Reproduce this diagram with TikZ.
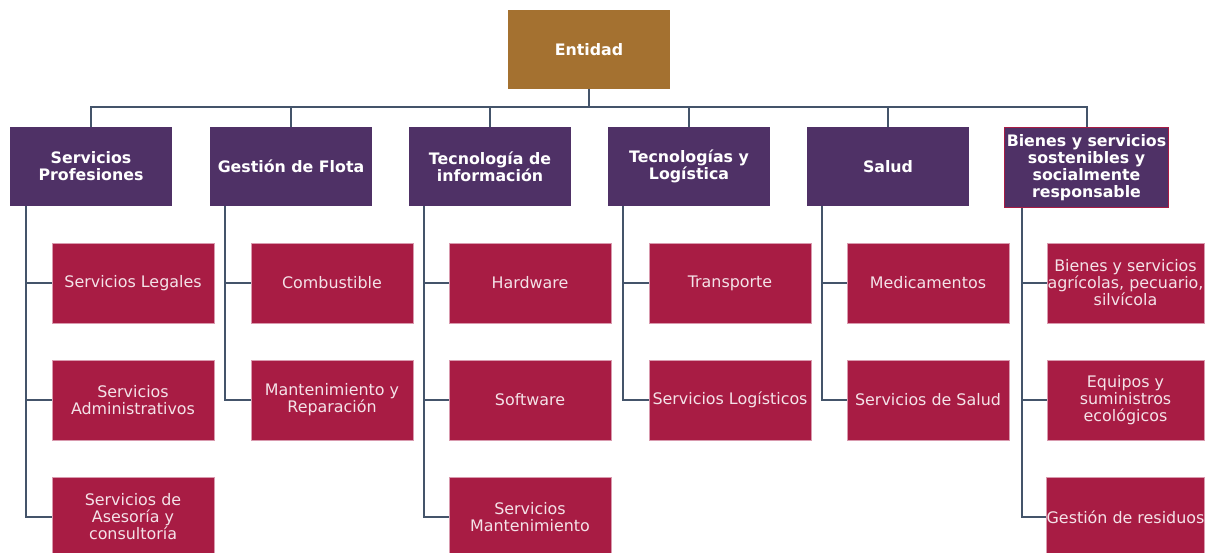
\documentclass[tikz,border=0pt]{standalone}
\usepackage{fontspec}
\setmainfont{DejaVu Sans}
\definecolor{brownE}{HTML}{A47130}
\definecolor{purpH}{HTML}{4F3166}
\definecolor{crim}{HTML}{A81C44}
\definecolor{conn}{HTML}{44546A}
\definecolor{ctext}{HTML}{F4E2E8}
\definecolor{cedge}{HTML}{D99AAE}
\begin{document}
\begin{tikzpicture}[x=1pt,y=-1pt,
  ent/.style={fill=brownE,minimum width=162pt,minimum height=79pt,inner sep=0pt,align=center,text=white,font=\fontsize{15.8}{17}\selectfont\bfseries},
  head/.style={fill=purpH,minimum width=162pt,minimum height=79pt,inner sep=0pt,align=center,text=white,font=\fontsize{15.8}{17}\selectfont\bfseries},
  child/.style={fill=crim,draw=cedge,line width=0.5pt,minimum width=162pt,minimum height=80pt,inner sep=0pt,align=center,text=ctext,font=\fontsize{15.9}{17}\selectfont},
  link/.style={draw=conn,line width=2pt}]
\useasboundingbox (0,0) rectangle (1211,552);
% top
\node[ent] (ent) at (589,49.5) {Entidad};
\coordinate (bus) at (589,107);
% headers
\node[head] (h1) at (91,166.5) {Servicios\\Profesiones};
\node[head] (h2) at (291,166.5) {Gestión de Flota};
\node[head] (h3) at (490,166.5) {Tecnología de\\información};
\node[head] (h4) at (689,166.5) {Tecnologías y\\Logística};
\node[head] (h5) at (888,166.5) {Salud};
\node[head,draw=crim,line width=1pt,minimum width=164pt,minimum height=80pt] (h6) at (1086.5,167.5) {Bienes y servicios\\sostenibles y\\socialmente\\responsable};
% children
\node[child] (c11) at (133,283) {Servicios Legales};
\node[child] (c12) at (133,400) {Servicios\\Administrativos};
\node[child] (c13) at (133,517) {Servicios de\\Asesoría y\\consultoría};
\node[child] (c21) at (332,283) {Combustible};
\node[child] (c22) at (332,400) {Mantenimiento y\\Reparación};
\node[child] (c31) at (530,283) {Hardware};
\node[child] (c32) at (530,400) {Software};
\node[child] (c33) at (530,517) {Servicios\\Mantenimiento};
\node[child] (c41) at (730,283) {Transporte};
\node[child] (c42) at (730,400) {Servicios Logísticos};
\node[child] (c51) at (928,283) {Medicamentos};
\node[child] (c52) at (928,400) {Servicios de Salud};
\node[child,minimum width=157pt] (c61) at (1125.5,283) {Bienes y servicios\\agrícolas, pecuario,\\silvícola};
\node[child,minimum width=157pt] (c62) at (1125.5,400) {Equipos y\\suministros\\ecológicos};
\node[child,minimum width=157pt] (c63) at (1125.5,517) {Gestión de residuos};
% connectors
\draw[link] (ent.south) -- (bus);
\foreach \h in {h1,h2,h3,h4,h5,h6}{\draw[link] (bus) -| (\h.north);}
\coordinate (t1) at (26,206);
\coordinate (t2) at (225,206);
\coordinate (t3) at (424,206);
\coordinate (t4) at (623,206);
\coordinate (t5) at (822,206);
\coordinate (t6) at (1022,208);
\draw[link] (t1) |- (c13.west);
\draw[link] (t1) |- (c12.west);
\draw[link] (t1) |- (c11.west);
\draw[link] (t2) |- (c22.west);
\draw[link] (t2) |- (c21.west);
\draw[link] (t3) |- (c33.west);
\draw[link] (t3) |- (c32.west);
\draw[link] (t3) |- (c31.west);
\draw[link] (t4) |- (c42.west);
\draw[link] (t4) |- (c41.west);
\draw[link] (t5) |- (c52.west);
\draw[link] (t5) |- (c51.west);
\draw[link] (t6) |- (c63.west);
\draw[link] (t6) |- (c62.west);
\draw[link] (t6) |- (c61.west);
\end{tikzpicture}
\end{document}
